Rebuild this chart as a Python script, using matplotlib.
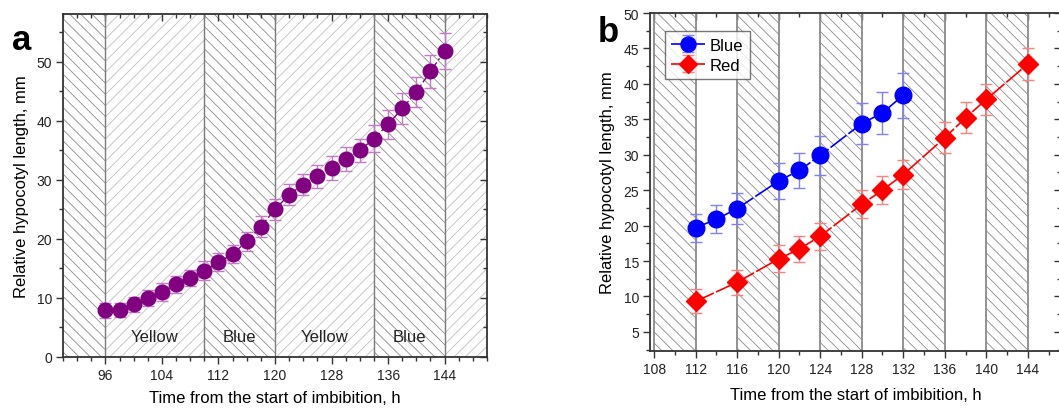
import matplotlib
matplotlib.use("Agg")
import matplotlib.pyplot as plt
from matplotlib.ticker import MultipleLocator
import numpy as np

plt.rcParams['font.family'] = ['Liberation Sans', 'DejaVu Sans']
plt.rcParams['hatch.linewidth'] = 0.6

# panel a: hypocotyl growth under alternating yellow/blue light
t_a = [96, 98, 100, 102, 104, 106, 108, 110, 112, 114, 116, 118, 120,
       122, 124, 126, 128, 130, 132, 134, 136, 138, 140, 142, 144]
len_a = [7.9, 7.9, 8.9, 10.0, 11.0, 12.3, 13.4, 14.6, 16.1, 17.4, 19.6, 22.1, 25.0,
         27.5, 29.2, 30.6, 32.0, 33.5, 35.0, 37.0, 39.4, 42.1, 44.9, 48.4, 51.8]
err_a = [1.3, 1.2, 1.3, 1.4, 1.5, 1.4, 1.4, 1.6, 1.5, 1.5, 1.6, 1.8, 1.8,
         1.8, 1.8, 2.0, 2.0, 2.0, 2.0, 2.3, 2.5, 2.6, 2.6, 2.8, 3.0]
# light periods (start, end, hatch)
periods_a = [(90, 96, '\\\\\\'), (96, 110, '///'), (110, 120, '\\\\\\'),
             (120, 134, '///'), (134, 144, '\\\\\\'), (144, 150, '///')]
borders_a = [96, 110, 120, 134, 144]
labels_a = ['Yellow', 'Blue', 'Yellow', 'Blue']
label_pos_a = [103, 115, 127, 139]

# panel b: blue vs red light
t_blue = [112, 114, 116, 120, 122, 124, 128, 130, 132]
len_blue = [19.7, 20.9, 22.4, 26.3, 27.8, 29.9, 34.4, 35.9, 38.4]
err_blue = [2.0, 2.0, 2.2, 2.6, 2.5, 2.7, 2.9, 3.0, 3.2]
t_red = [112, 116, 120, 122, 124, 128, 130, 132, 136, 138, 140, 144]
len_red = [9.3, 12.0, 15.3, 16.7, 18.5, 23.0, 25.0, 27.2, 32.4, 35.2, 37.8, 42.8]
err_red = [1.7, 1.8, 1.9, 1.8, 1.9, 2.0, 2.0, 2.0, 2.2, 2.2, 2.2, 2.3]
dark_b = [(108, 112), (116, 120), (124, 128), (132, 136), (140, 144)]

W, H = 1059, 410
fig = plt.figure(figsize=(W / 100, H / 100), dpi=100)

def px_axes(l, r, t, b):
    return fig.add_axes([l / W, 1 - b / H, (r - l) / W, (b - t) / H])

def origin_style(ax, xmaj, xmin, ymaj, ymin):
    for s in ax.spines.values():
        s.set_linewidth(1.3)
        s.set_color('#333333')
        s.set_zorder(6)
    ax.xaxis.set_major_locator(MultipleLocator(xmaj))
    ax.xaxis.set_minor_locator(MultipleLocator(xmin))
    ax.yaxis.set_major_locator(MultipleLocator(ymaj))
    ax.yaxis.set_minor_locator(MultipleLocator(ymin))
    ax.tick_params(which='both', direction='out', color='#333333', width=1.0,
                   labelsize=10, labelcolor='#222222', pad=3)
    ax.tick_params(which='major', length=5)
    ax.tick_params(which='minor', length=3)
    top = ax.secondary_xaxis('top')
    right = ax.secondary_yaxis('right')
    for sec, axis in ((top, top.xaxis), (right, right.yaxis)):
        axis.set_major_locator(MultipleLocator(xmaj if sec is top else ymaj))
        axis.set_minor_locator(MultipleLocator(xmin if sec is top else ymin))
        sec.tick_params(which='both', direction='in', color='#333333', width=1.0,
                        labelleft=False, labelright=False, labeltop=False, labelbottom=False)
        sec.tick_params(which='major', length=5)
        sec.tick_params(which='minor', length=3)
        for s in sec.spines.values():
            s.set_visible(False)

# ---- panel a ----
ax = px_axes(63, 487, 15, 358)
ax.set_xlim(90, 150)
ax.set_ylim(0, 58.1)
for x0, x1, h in periods_a:
    col = '#8c8c8c' if h.startswith('\\') else '#c0c0c0'
    ax.axvspan(x0, x1, facecolor='white', edgecolor=col, hatch=h, lw=0, zorder=0)
for xb in borders_a:
    ax.axvline(xb, color='#7a7a7a', lw=1.0, zorder=1)
for lab, xp in zip(labels_a, label_pos_a):
    ax.text(xp, 3.4, lab, ha='center', va='center', fontsize=12, color='#222222', zorder=3)
ax.errorbar(t_a, len_a, yerr=err_a, fmt='o', color='#800080', ms=10.5,
            ecolor='#c47ac4', elinewidth=1.0, capsize=4, capthick=1.0,
            ls=(0, (6, 2, 1.5, 2)), lw=1.0, zorder=4)
origin_style(ax, 8, 2, 10, 5)
ax.set_xticks([96, 104, 112, 120, 128, 136, 144])
ax.set_xlabel('Time from the start of imbibition, h', fontsize=12, labelpad=6)
ax.set_ylabel('Relative hypocotyl length, mm', fontsize=12, labelpad=5)
fig.text(12 / W, 1 - 40 / H, 'a', fontsize=25, fontweight='bold', va='center')

# ---- panel b ----
bx = px_axes(650, 1061, 14, 352)
bx.set_xlim(107.6, 147.2)
bx.set_ylim(2.3, 50)
for x0, x1 in dark_b:
    bx.axvspan(x0, x1, facecolor='white', edgecolor='#8c8c8c', hatch='\\\\\\', lw=0, zorder=0)
    bx.axvline(x0, color='#8a8a8a', lw=1.3, zorder=1)
    bx.axvline(x1, color='#8a8a8a', lw=1.3, zorder=1)
bx.errorbar(t_blue, len_blue, yerr=err_blue, fmt='o', color='#0000ff', ms=12,
            ecolor='#8080ff', elinewidth=1.0, capsize=4, capthick=1.0,
            ls=(0, (12, 1.5)), lw=1.2, zorder=4, label='Blue')
bx.errorbar(t_red, len_red, yerr=err_red, fmt='D', color='#ff0000', ms=10.5,
            ecolor='#ff8080', elinewidth=1.0, capsize=4, capthick=1.0,
            ls=(0, (12, 1.5)), lw=1.2, zorder=4, label='Red')
origin_style(bx, 4, 2, 5, 2.5)
bx.set_xlabel('Time from the start of imbibition, h', fontsize=12, labelpad=8)
bx.set_ylabel('Relative hypocotyl length, mm', fontsize=12, labelpad=6)
leg = bx.legend(loc='upper left', bbox_to_anchor=(0.036, 0.947), borderaxespad=0,
                fontsize=12, frameon=True, fancybox=False, handlelength=2.0,
                borderpad=0.4, labelspacing=0.3, handletextpad=0.3, markerscale=0.9)
leg.get_frame().set_edgecolor('#555555')
leg.get_frame().set_linewidth(1.0)
leg.set_zorder(10)
fig.text(598 / W, 1 - 33 / H, 'b', fontsize=25, fontweight='bold', va='center')

fig.savefig('out.png', dpi=100)
